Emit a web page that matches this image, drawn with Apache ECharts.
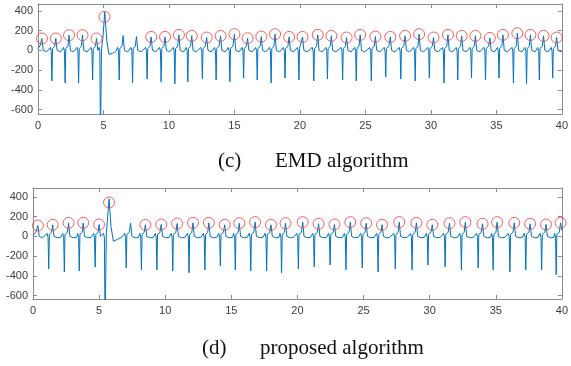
<!DOCTYPE html>
<html>
<head>
<meta charset="utf-8">
<script src="https://cdn.jsdelivr.net/npm/echarts@6/dist/echarts.min.js"></script>
<style>
  html, body { margin: 0; padding: 0; background: #fff; }
  #chart { width: 571px; height: 366px; }
</style>
</head>
<body>
<div id="chart"></div>
<script>
// ---- data (time in s, amplitude) ----
const xTicks = [0, 5, 10, 15, 20, 25, 30, 35, 40];
const yTicks = [-600, -400, -200, 0, 200, 400];

// (c) EMD algorithm: signal vertices, one row per beat
const emdSignal = [
  [0, 20], [0.15, 45], [0.3, 120], [0.4, 0], [0.65, -15],
  [0.94, 30], [1.01, -10], [1.06, -310], [1.11, 20], [1.19, 0], [1.27, 40], [1.36, 120], [1.46, 0], [1.71, -15],
  [1.95, 30], [2.02, -10], [2.07, -330], [2.12, 20], [2.2, 0], [2.28, 40], [2.37, 154], [2.47, 0], [2.72, -15],
  [2.98, 30], [3.05, -10], [3.1, -330], [3.15, 20], [3.23, 0], [3.31, 40], [3.4, 154], [3.5, 0], [3.75, -15],
  [4.05, 30], [4.12, -10], [4.17, -300], [4.22, 20], [4.3, 0], [4.38, 40], [4.47, 120], [4.57, 0],
  [4.65, 30], [4.72, -10], [4.77, -900], [4.85, 20], [4.95, 120], [5.1, 390], [5.25, 100], [5.42, -40], [5.7, -30], [5.95, -10],
  [6.08, 30], [6.15, -10], [6.2, -300], [6.25, 20], [6.33, 0], [6.41, 40], [6.5, 150], [6.6, 0], [6.85, -15],
  [7.1, 30], [7.17, -10], [7.22, -330], [7.27, 20], [7.35, 0], [7.43, 40], [7.52, 140], [7.62, 0], [7.87, -15],
  [8.21, 30], [8.28, -10], [8.33, -290], [8.38, 20], [8.46, 0], [8.54, 40], [8.64, 136], [8.74, 0], [8.99, -15],
  [9.28, 30], [9.35, -10], [9.4, -320], [9.45, 20], [9.53, 0], [9.61, 40], [9.7, 136], [9.8, 0], [10.05, -15],
  [10.33, 30], [10.4, -10], [10.45, -340], [10.5, 20], [10.58, 0], [10.66, 40], [10.76, 157], [10.86, 0], [11.11, -15],
  [11.32, 30], [11.39, -10], [11.44, -320], [11.49, 20], [11.57, 0], [11.65, 40], [11.74, 147], [11.84, 0], [12.09, -15],
  [12.43, 30], [12.5, -10], [12.55, -287], [12.6, 20], [12.68, 0], [12.77, 40], [12.88, 130], [12.98, 0], [13.23, -15],
  [13.48, 30], [13.55, -10], [13.6, -300], [13.65, 20], [13.73, 0], [13.82, 40], [13.94, 147], [14.04, 0], [14.29, -15],
  [14.53, 30], [14.6, -10], [14.65, -320], [14.7, 20], [14.78, 0], [14.88, 40], [15.0, 164], [15.1, 0], [15.35, -15],
  [15.58, 30], [15.65, -10], [15.7, -280], [15.75, 20], [15.83, 0], [15.91, 40], [16.0, 123], [16.1, 0], [16.35, -15],
  [16.62, 30], [16.69, -10], [16.74, -300], [16.79, 20], [16.87, 0], [16.96, 40], [17.05, 140], [17.15, 0], [17.4, -15],
  [17.68, 30], [17.75, -10], [17.8, -330], [17.85, 20], [17.93, 0], [18.01, 40], [18.1, 164], [18.2, 0], [18.45, -15],
  [18.74, 30], [18.81, -10], [18.86, -280], [18.91, 20], [18.99, 0], [19.08, 40], [19.17, 136], [19.27, 0], [19.52, -15],
  [19.8, 30], [19.87, -10], [19.92, -300], [19.97, 20], [20.04, 0], [20.12, 40], [20.2, 136], [20.3, 0], [20.55, -15],
  [20.94, 30], [21.01, -10], [21.06, -310], [21.11, 20], [21.19, 0], [21.27, 40], [21.36, 157], [21.46, 0], [21.71, -15],
  [21.98, 30], [22.05, -10], [22.1, -290], [22.15, 20], [22.23, 0], [22.31, 40], [22.4, 147], [22.5, 0], [22.75, -15],
  [23.14, 30], [23.21, -10], [23.26, -300], [23.31, 20], [23.39, 0], [23.47, 40], [23.56, 130], [23.66, 0], [23.91, -15],
  [24.18, 30], [24.25, -10], [24.3, -310], [24.35, 20], [24.43, 0], [24.51, 40], [24.6, 157], [24.7, 0], [24.95, -15],
  [25.33, 30], [25.4, -10], [25.45, -310], [25.5, 20], [25.58, 0], [25.67, 40], [25.76, 140], [25.86, 0], [26.11, -15],
  [26.43, 30], [26.5, -10], [26.55, -270], [26.6, 20], [26.68, 0], [26.79, 40], [26.9, 136], [27.0, 0], [27.25, -15],
  [27.58, 30], [27.65, -10], [27.7, -290], [27.75, 20], [27.83, 0], [27.93, 40], [28.03, 147], [28.13, 0], [28.38, -15],
  [28.68, 30], [28.75, -10], [28.8, -310], [28.85, 20], [28.93, 0], [29.01, 40], [29.1, 164], [29.2, 0], [29.45, -15],
  [29.76, 30], [29.83, -10], [29.88, -280], [29.93, 20], [30.01, 0], [30.1, 40], [30.2, 130], [30.3, 0], [30.55, -15],
  [30.88, 30], [30.95, -10], [31.0, -330], [31.05, 20], [31.13, 0], [31.21, 40], [31.3, 157], [31.4, 0], [31.65, -15],
  [31.93, 30], [32.0, -10], [32.05, -300], [32.1, 20], [32.18, 0], [32.26, 40], [32.35, 147], [32.45, 0], [32.7, -15],
  [32.98, 30], [33.05, -10], [33.1, -280], [33.15, 20], [33.23, 0], [33.31, 40], [33.4, 147], [33.5, 0], [33.75, -15],
  [34.05, 30], [34.12, -10], [34.17, -300], [34.22, 20], [34.3, 0], [34.4, 40], [34.5, 126], [34.6, 0], [34.85, -15],
  [35.08, 30], [35.15, -10], [35.2, -280], [35.25, 20], [35.33, 0], [35.41, 40], [35.5, 157], [35.6, 0], [35.85, -15],
  [36.18, 30], [36.25, -10], [36.3, -330], [36.35, 20], [36.43, 0], [36.51, 40], [36.6, 174], [36.7, 0], [36.95, -15],
  [37.18, 30], [37.25, -10], [37.3, -340], [37.35, 20], [37.43, 0], [37.51, 40], [37.6, 157], [37.7, 0], [37.95, -15],
  [38.16, 30], [38.23, -10], [38.28, -300], [38.33, 20], [38.41, 0], [38.5, 40], [38.6, 147], [38.7, 0], [38.95, -15],
  [39.18, 30], [39.25, -10], [39.3, -280], [39.35, 20], [39.43, 0], [39.51, 40], [39.6, 130], [39.7, 0], [39.95, -15], [40, -10]
];
const emdPeaks = [
  [0.3, 120], [1.36, 120], [2.37, 154], [3.4, 154], [4.47, 120], [5.08, 340],
  [8.64, 136], [9.7, 136], [10.76, 157], [11.74, 147], [12.88, 130], [13.94, 147],
  [15.0, 164], [16.0, 123], [17.05, 140], [18.1, 164], [19.17, 136], [20.2, 136],
  [21.36, 157], [22.4, 147], [23.56, 130], [24.6, 157], [25.76, 140], [26.9, 136],
  [28.03, 147], [29.1, 164], [30.2, 130], [31.3, 157], [32.35, 147], [33.4, 147],
  [34.5, 126], [35.5, 157], [36.6, 174], [37.6, 157], [38.6, 147], [39.6, 130]
];

// (d) proposed algorithm
const proposedSignal = [
  [0, 10], [0.2, 40], [0.37, 110], [0.47, 0], [0.72, -15],
  [1.07, 30], [1.14, -10], [1.19, -330], [1.24, 20], [1.33, 0], [1.4, 40], [1.49, 117], [1.59, 0], [1.84, -15], [2.09, -10],
  [2.25, 30], [2.32, -10], [2.37, -360], [2.42, 20], [2.51, 0], [2.6, 40], [2.69, 137], [2.79, 0], [3.04, -15], [3.29, -10],
  [3.38, 30], [3.45, -10], [3.5, -350], [3.55, 20], [3.64, 0], [3.72, 40], [3.8, 137], [3.9, 0], [4.15, -15], [4.4, -10],
  [4.58, 30], [4.65, -10], [4.7, -310], [4.75, 20], [4.84, 0], [4.92, 40], [5.0, 120], [5.1, 0],
  [5.33, 30], [5.4, -10], [5.45, -900], [5.55, 40], [5.62, 150], [5.75, 380], [5.9, 100], [6.08, -50], [6.4, -30], [6.75, -5],
  [6.93, 30], [7.0, -10], [7.05, -320], [7.1, 20], [7.19, 0], [7.28, 40], [7.38, 134], [7.48, 0], [7.73, -15], [7.98, -10],
  [8.08, 30], [8.15, -10], [8.2, -340], [8.25, 20], [8.33, 0], [8.41, 40], [8.5, 117], [8.6, 0], [8.85, -15], [9.1, -10],
  [9.25, 30], [9.32, -10], [9.37, -340], [9.42, 20], [9.51, 0], [9.6, 40], [9.7, 120], [9.8, 0], [10.05, -15], [10.3, -10],
  [10.45, 30], [10.52, -10], [10.57, -350], [10.62, 20], [10.71, 0], [10.8, 40], [10.9, 130], [11.0, 0], [11.25, -15], [11.5, -10],
  [11.68, 30], [11.75, -10], [11.8, -370], [11.85, 20], [11.93, 0], [12.01, 40], [12.1, 137], [12.2, 0], [12.45, -15], [12.7, -10],
  [12.88, 30], [12.95, -10], [13.0, -340], [13.05, 20], [13.13, 0], [13.21, 40], [13.3, 137], [13.4, 0], [13.65, -15], [13.9, -10],
  [14.05, 30], [14.12, -10], [14.17, -300], [14.22, 20], [14.31, 0], [14.4, 40], [14.5, 117], [14.6, 0], [14.85, -15], [15.1, -10],
  [15.18, 30], [15.25, -10], [15.3, -340], [15.35, 20], [15.43, 0], [15.51, 40], [15.6, 133], [15.7, 0], [15.95, -15], [16.2, -10],
  [16.35, 30], [16.42, -10], [16.47, -350], [16.52, 20], [16.61, 0], [16.7, 40], [16.8, 144], [16.9, 0], [17.15, -15], [17.4, -10],
  [17.55, 30], [17.62, -10], [17.67, -350], [17.72, 20], [17.81, 0], [17.9, 40], [18.0, 117], [18.1, 0], [18.35, -15], [18.6, -10],
  [18.68, 30], [18.75, -10], [18.8, -370], [18.85, 20], [18.93, 0], [19.01, 40], [19.1, 133], [19.2, 0], [19.45, -15], [19.7, -10],
  [19.95, 30], [20.02, -10], [20.07, -330], [20.12, 20], [20.21, 0], [20.3, 40], [20.4, 144], [20.5, 0], [20.75, -15], [21.0, -10],
  [21.15, 30], [21.22, -10], [21.27, -310], [21.32, 20], [21.41, 0], [21.5, 40], [21.6, 127], [21.7, 0], [21.95, -15], [22.2, -10],
  [22.35, 30], [22.42, -10], [22.47, -290], [22.52, 20], [22.61, 0], [22.7, 40], [22.8, 120], [22.9, 0], [23.15, -15], [23.4, -10],
  [23.55, 30], [23.62, -10], [23.67, -340], [23.72, 20], [23.81, 0], [23.9, 40], [24.0, 144], [24.1, 0], [24.35, -15], [24.6, -10],
  [24.78, 30], [24.85, -10], [24.9, -320], [24.95, 20], [25.03, 0], [25.11, 40], [25.2, 133], [25.3, 0], [25.55, -15], [25.8, -10],
  [25.98, 30], [26.05, -10], [26.1, -360], [26.15, 20], [26.23, 0], [26.31, 40], [26.4, 117], [26.5, 0], [26.75, -15], [27.0, -10],
  [27.28, 30], [27.35, -10], [27.4, -330], [27.45, 20], [27.53, 0], [27.61, 40], [27.7, 144], [27.8, 0], [28.05, -15], [28.3, -10],
  [28.55, 30], [28.62, -10], [28.67, -340], [28.72, 20], [28.81, 0], [28.9, 40], [29.0, 137], [29.1, 0], [29.35, -15], [29.6, -10],
  [29.75, 30], [29.82, -10], [29.87, -290], [29.92, 20], [30.01, 0], [30.1, 40], [30.2, 117], [30.3, 0], [30.55, -15], [30.8, -10],
  [31.05, 30], [31.12, -10], [31.17, -310], [31.22, 20], [31.31, 0], [31.4, 40], [31.5, 133], [31.6, 0], [31.85, -15], [32.1, -10],
  [32.28, 30], [32.35, -10], [32.4, -340], [32.45, 20], [32.53, 0], [32.61, 40], [32.7, 144], [32.8, 0], [33.05, -15], [33.3, -10],
  [33.55, 30], [33.62, -10], [33.67, -320], [33.72, 20], [33.81, 0], [33.9, 40], [34.0, 127], [34.1, 0], [34.35, -15], [34.6, -10],
  [34.68, 30], [34.75, -10], [34.8, -340], [34.85, 20], [34.93, 0], [35.01, 40], [35.1, 144], [35.2, 0], [35.45, -15], [35.7, -10],
  [35.95, 30], [36.02, -10], [36.07, -360], [36.12, 20], [36.21, 0], [36.3, 40], [36.4, 137], [36.5, 0], [36.75, -15], [37.0, -10],
  [37.15, 30], [37.22, -10], [37.27, -340], [37.32, 20], [37.41, 0], [37.5, 40], [37.6, 127], [37.7, 0], [37.95, -15], [38.2, -10],
  [38.35, 30], [38.42, -10], [38.47, -340], [38.52, 20], [38.61, 0], [38.7, 40], [38.8, 120], [38.9, 0], [39.15, -15], [39.4, -10],
  [39.45, 30], [39.52, -10], [39.57, -390], [39.62, 20], [39.71, 0], [39.8, 40], [39.9, 137], [40, 60]
];
const proposedPeaks = [
  [0.37, 110], [1.49, 117], [2.69, 137], [3.8, 137], [5.0, 120], [5.75, 343],
  [8.5, 117], [9.7, 120], [10.9, 130], [12.1, 137], [13.3, 137], [14.5, 117],
  [15.6, 133], [16.8, 144], [18.0, 117], [19.1, 133], [20.4, 144], [21.6, 127],
  [22.8, 120], [24.0, 144], [25.2, 133], [26.4, 117], [27.7, 144], [29.0, 137],
  [30.2, 117], [31.5, 133], [32.7, 144], [34.0, 127], [35.1, 144], [36.4, 137],
  [37.6, 127], [38.8, 120], [39.9, 137]
];

// ---- styling ----
const AXIS_COLOR = '#8a8a8a';
const LABEL_COLOR = '#3c3c3c';
const LINE_BLUE = '#0072bd';
const CIRCLE_RED = '#f03a3a';
const SANS = "'Liberation Sans', Arial, sans-serif";
const SERIF = "'Liberation Serif', 'Times New Roman', serif";

function xAxesFor(gridIndex) {
  const base = {
    type: 'value', gridIndex, min: 0, max: 40, interval: 5,
    splitLine: { show: false },
    axisLine: { show: true, onZero: false, lineStyle: { color: AXIS_COLOR, width: 1 } },
    axisTick: { show: true, inside: true, length: 4, lineStyle: { color: AXIS_COLOR } }
  };
  return [
    { ...base, position: 'bottom',
      axisLabel: { color: LABEL_COLOR, fontSize: 11, fontFamily: SANS, margin: 6, customValues: xTicks } },
    { ...base, position: 'top', axisLabel: { show: false } }
  ];
}

function yAxesFor(gridIndex, min, max) {
  const base = {
    type: 'value', gridIndex, min, max,
    splitLine: { show: false },
    axisLine: { show: true, onZero: false, lineStyle: { color: AXIS_COLOR, width: 1 } },
    axisTick: { show: true, inside: true, length: 4, customValues: yTicks, lineStyle: { color: AXIS_COLOR } }
  };
  return [
    { ...base, position: 'left',
      axisLabel: { color: LABEL_COLOR, fontSize: 11, fontFamily: SANS, margin: 5, customValues: yTicks } },
    { ...base, position: 'right', axisLabel: { show: false } }
  ];
}

function signalSeries(data, axisIndex) {
  return {
    type: 'line', data, xAxisIndex: axisIndex, yAxisIndex: axisIndex,
    showSymbol: false, smooth: false, animation: false,
    lineStyle: { color: LINE_BLUE, width: 1 }
  };
}

function peakSeries(data, axisIndex) {
  return {
    type: 'scatter', data, xAxisIndex: axisIndex, yAxisIndex: axisIndex,
    symbol: 'circle', symbolSize: 11, z: 5, animation: false,
    itemStyle: { color: 'rgba(0,0,0,0)', borderColor: CIRCLE_RED, borderWidth: 1 }
  };
}

function caption(text, x, y) {
  return {
    type: 'text', x, y,
    style: { text, font: '21px ' + SERIF, fill: '#111', align: 'left', verticalAlign: 'middle' }
  };
}

const chart = echarts.init(document.getElementById('chart'));
chart.setOption({
  backgroundColor: '#fff',
  animation: false,
  grid: [
    { left: 38, right: 5, top: 4, height: 110 },
    { left: 33, right: 2, top: 188, height: 111 }
  ],
  xAxis: [...xAxesFor(0), ...xAxesFor(1)],
  yAxis: [...yAxesFor(0, -645, 470), ...yAxesFor(1, -635, 490)],
  series: [
    signalSeries(emdSignal, 0),
    peakSeries(emdPeaks, 0),
    signalSeries(proposedSignal, 2),
    peakSeries(proposedPeaks, 2)
  ],
  graphic: [
    caption('(c)', 218, 161),
    caption('EMD algorithm', 275, 161),
    caption('(d)', 202, 348),
    caption('proposed algorithm', 260, 348)
  ]
});
</script>
</body>
</html>
